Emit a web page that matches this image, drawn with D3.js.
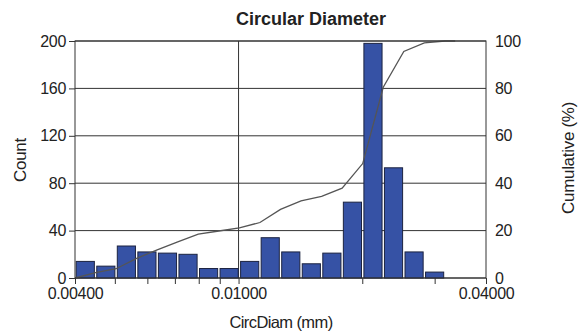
<!DOCTYPE html>
<html>
<head>
<style>
  body { margin: 0; background: #fff; }
  text { font-family: "Liberation Sans", Arial, sans-serif; fill: #222; }
</style>
</head>
<body>
<svg></svg>
<script src="https://d3js.org/d3.v7.min.js"></script>
<script>
const width = 582, height = 334;
const margin = {left: 75, right: 96, top: 41, bottom: 56};

// histogram bins: 20 per log decade, starting at 0.004
const binStart = 0.004;
const binsPerDecade = 20;
const counts = [14, 10, 27, 22, 21, 20, 8, 8, 14, 34, 22, 12, 21, 64, 198, 93, 22, 5];
const majorTicks = [0.004, 0.01, 0.04];
const minorTicks = [0.005, 0.006, 0.007, 0.008, 0.009, 0.02, 0.03];
const countTicks = [0, 40, 80, 120, 160, 200];
const cumTicks = [0, 20, 40, 60, 80, 100];

const svg = d3.select('svg').attr('width', width).attr('height', height);

const x = d3.scaleLog().domain([0.004, 0.04]).range([margin.left, width - margin.right]);
const y = d3.scaleLinear().domain([0, 200]).range([height - margin.bottom, margin.top]);
const y2 = d3.scaleLinear().domain([0, 100]).range([height - margin.bottom, margin.top]);

const edge = k => binStart * Math.pow(10, k / binsPerDecade);
const total = d3.sum(counts);
let run = 0;
const cum = [{v: binStart, c: 0}].concat(counts.map((c, i) => {
  run += c;
  return {v: edge(i + 1), c: run / total * 100};
}));
cum.push({v: edge(counts.length + 0.5), c: 100});

// horizontal gridlines
svg.append('g').selectAll('line').data(countTicks).enter().append('line')
  .attr('x1', margin.left).attr('x2', width - margin.right)
  .attr('y1', d => y(d)).attr('y2', d => y(d))
  .attr('stroke', '#333').attr('stroke-width', 1);

// vertical gridline at 0.01
svg.append('line')
  .attr('x1', x(0.01)).attr('x2', x(0.01))
  .attr('y1', margin.top).attr('y2', height - margin.bottom)
  .attr('stroke', '#333');

// bars
svg.append('g').selectAll('rect').data(counts).enter().append('rect')
  .attr('x', (d, i) => x(edge(i)) + 1.2)
  .attr('width', (d, i) => x(edge(i + 1)) - x(edge(i)) - 2.4)
  .attr('y', d => y(d))
  .attr('height', d => y(0) - y(d))
  .attr('fill', '#3652a5')
  .attr('stroke', '#1c2340')
  .attr('stroke-width', 1);

// cumulative line
svg.append('path').datum(cum)
  .attr('d', d3.line().x(d => x(d.v)).y(d => y2(d.c)))
  .attr('fill', 'none')
  .attr('stroke', '#555')
  .attr('stroke-width', 1.3);

// frame
svg.append('rect')
  .attr('x', margin.left).attr('y', margin.top)
  .attr('width', width - margin.left - margin.right)
  .attr('height', height - margin.top - margin.bottom)
  .attr('fill', 'none').attr('stroke', '#333');

// axes
const fmt = d3.format('.5f');
const xAxis = svg.append('g').attr('transform', `translate(0,${height - margin.bottom})`)
  .call(d3.axisBottom(x).tickValues(majorTicks.concat(minorTicks))
    .tickFormat(d => majorTicks.includes(d) ? fmt(d) : '').tickSize(6).tickPadding(4));
const yAxis = svg.append('g').attr('transform', `translate(${margin.left},0)`)
  .call(d3.axisLeft(y).tickValues(countTicks).tickSize(6).tickPadding(3));
const yAxis2 = svg.append('g').attr('transform', `translate(${width - margin.right},0)`)
  .call(d3.axisRight(y2).tickValues(cumTicks).tickSize(0).tickPadding(9));

[xAxis, yAxis, yAxis2].forEach(a => {
  a.select('.domain').remove();
  a.selectAll('line').attr('stroke', '#333');
  a.selectAll('text').attr('font-size', 16).attr('fill', '#222')
    .attr('letter-spacing', -0.3)
    .style('font-family', '"Liberation Sans", Arial, sans-serif');
});
yAxis2.selectAll('text').attr('text-anchor', 'start');

// titles
svg.append('text').attr('x', 311).attr('y', 25).attr('text-anchor', 'middle')
  .attr('font-size', 18).attr('font-weight', 'bold').text('Circular Diameter');
svg.append('text').attr('x', 281).attr('y', 328).attr('text-anchor', 'middle')
  .attr('font-size', 16.5).attr('letter-spacing', -0.6).text('CircDiam (mm)');
svg.append('text').attr('transform', 'translate(26,160) rotate(-90)')
  .attr('text-anchor', 'middle').attr('font-size', 17).attr('letter-spacing', -0.3).text('Count');
svg.append('text').attr('transform', 'translate(574,158) rotate(-90)')
  .attr('text-anchor', 'middle').attr('font-size', 17).attr('letter-spacing', -0.3).text('Cumulative (%)');
</script>
</body>
</html>
